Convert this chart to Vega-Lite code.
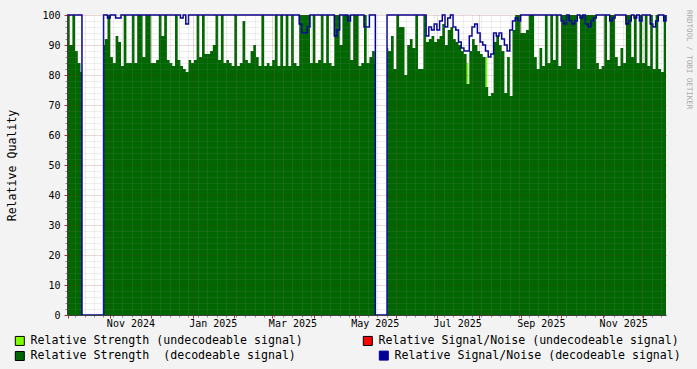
{
  "$schema": "https://vega.github.io/schema/vega-lite/v6.json",
  "width": 599,
  "height": 300,
  "autosize": {"type": "none"},
  "padding": {"left": 67, "top": 15, "right": 31, "bottom": 54},
  "background": "#F3F3F3",
  "config": {
    "view": {"fill": "#FFFFFF", "stroke": null},
    "axis": {"labelFont": "DejaVu Sans Mono", "labelFontSize": 10, "labelColor": "#000000", "titleFont": "DejaVu Sans Mono", "titleFontWeight": "normal", "titleColor": "#000000"}
  },
  "title": {"text": "RRDTOOL / TOBI OETIKER", "orient": "right", "anchor": "start", "font": "DejaVu Sans Mono", "fontSize": 7.5, "fontWeight": "normal", "color": "#aaaaaa", "offset": 4},
  "datasets": {
    "lime": [
      {"t": "2025-07-23T00:00:00Z", "u": 84},
      {"t": "2025-07-24T08:00:00Z", "u": 0},
      {"t": "2025-08-06T00:00:00Z", "u": 86},
      {"t": "2025-08-07T08:00:00Z", "u": 0}
    ],
    "main": [
      {"t": "2024-09-30", "s": 100, "n": 100},
      {"t": "2024-10-02", "s": 90, "n": 100},
      {"t": "2024-10-04", "s": 100, "n": 100},
      {"t": "2024-10-06", "s": 88, "n": 100},
      {"t": "2024-10-08", "s": 84, "n": 100},
      {"t": "2024-10-10", "s": 81, "n": 100},
      {"t": "2024-10-11T02:00:00Z", "s": 0, "n": 0},
      {"t": "2024-10-27T02:00:00Z", "s": 90, "n": 100},
      {"t": "2024-10-28", "s": 92, "n": 100},
      {"t": "2024-10-30", "s": 100, "n": 99},
      {"t": "2024-11-01", "s": 86, "n": 100},
      {"t": "2024-11-03", "s": 84, "n": 100},
      {"t": "2024-11-05", "s": 93, "n": 99},
      {"t": "2024-11-07", "s": 91, "n": 99},
      {"t": "2024-11-09", "s": 83, "n": 100},
      {"t": "2024-11-11", "s": 100, "n": 100},
      {"t": "2024-11-13", "s": 84, "n": 100},
      {"t": "2024-11-15", "s": 84, "n": 100},
      {"t": "2024-11-17", "s": 100, "n": 100},
      {"t": "2024-11-19", "s": 84, "n": 100},
      {"t": "2024-11-21", "s": 100, "n": 100},
      {"t": "2024-11-23", "s": 100, "n": 100},
      {"t": "2024-11-25", "s": 86, "n": 100},
      {"t": "2024-11-27", "s": 100, "n": 100},
      {"t": "2024-11-29", "s": 100, "n": 100},
      {"t": "2024-12-01", "s": 84, "n": 100},
      {"t": "2024-12-03", "s": 84, "n": 100},
      {"t": "2024-12-05", "s": 85, "n": 100},
      {"t": "2024-12-07", "s": 100, "n": 100},
      {"t": "2024-12-09", "s": 93, "n": 100},
      {"t": "2024-12-11", "s": 100, "n": 100},
      {"t": "2024-12-13", "s": 85, "n": 100},
      {"t": "2024-12-15", "s": 84, "n": 100},
      {"t": "2024-12-17", "s": 83, "n": 100},
      {"t": "2024-12-19", "s": 100, "n": 100},
      {"t": "2024-12-21", "s": 85, "n": 100},
      {"t": "2024-12-23", "s": 83, "n": 99},
      {"t": "2024-12-25", "s": 82, "n": 100},
      {"t": "2024-12-27", "s": 81, "n": 97},
      {"t": "2024-12-29", "s": 85, "n": 100},
      {"t": "2024-12-31", "s": 84, "n": 100},
      {"t": "2025-01-02", "s": 85, "n": 100},
      {"t": "2025-01-04", "s": 100, "n": 100},
      {"t": "2025-01-06", "s": 86, "n": 100},
      {"t": "2025-01-08", "s": 100, "n": 100},
      {"t": "2025-01-10", "s": 87, "n": 100},
      {"t": "2025-01-12", "s": 87, "n": 100},
      {"t": "2025-01-14", "s": 88, "n": 100},
      {"t": "2025-01-16", "s": 90, "n": 100},
      {"t": "2025-01-18", "s": 100, "n": 100},
      {"t": "2025-01-20", "s": 85, "n": 100},
      {"t": "2025-01-22", "s": 100, "n": 100},
      {"t": "2025-01-24", "s": 84, "n": 100},
      {"t": "2025-01-26", "s": 85, "n": 100},
      {"t": "2025-01-28", "s": 84, "n": 100},
      {"t": "2025-01-30", "s": 83, "n": 100},
      {"t": "2025-02-01", "s": 100, "n": 100},
      {"t": "2025-02-03", "s": 83, "n": 100},
      {"t": "2025-02-05", "s": 84, "n": 100},
      {"t": "2025-02-07", "s": 98, "n": 100},
      {"t": "2025-02-09", "s": 85, "n": 100},
      {"t": "2025-02-11", "s": 84, "n": 100},
      {"t": "2025-02-13", "s": 88, "n": 100},
      {"t": "2025-02-15", "s": 90, "n": 100},
      {"t": "2025-02-17", "s": 86, "n": 100},
      {"t": "2025-02-19", "s": 83, "n": 100},
      {"t": "2025-02-21", "s": 100, "n": 100},
      {"t": "2025-02-23", "s": 83, "n": 100},
      {"t": "2025-02-25", "s": 84, "n": 100},
      {"t": "2025-02-27", "s": 83, "n": 100},
      {"t": "2025-03-01", "s": 85, "n": 100},
      {"t": "2025-03-03", "s": 100, "n": 100},
      {"t": "2025-03-05", "s": 83, "n": 100},
      {"t": "2025-03-07", "s": 100, "n": 100},
      {"t": "2025-03-09", "s": 83, "n": 100},
      {"t": "2025-03-11", "s": 100, "n": 100},
      {"t": "2025-03-13", "s": 83, "n": 100},
      {"t": "2025-03-15", "s": 100, "n": 100},
      {"t": "2025-03-17", "s": 84, "n": 100},
      {"t": "2025-03-19", "s": 83, "n": 100},
      {"t": "2025-03-21", "s": 100, "n": 97},
      {"t": "2025-03-23", "s": 100, "n": 94},
      {"t": "2025-03-25", "s": 100, "n": 94},
      {"t": "2025-03-27", "s": 100, "n": 96},
      {"t": "2025-03-29", "s": 84, "n": 100},
      {"t": "2025-03-31", "s": 100, "n": 100},
      {"t": "2025-04-02", "s": 84, "n": 100},
      {"t": "2025-04-04", "s": 85, "n": 100},
      {"t": "2025-04-06", "s": 100, "n": 100},
      {"t": "2025-04-08", "s": 84, "n": 100},
      {"t": "2025-04-10", "s": 100, "n": 100},
      {"t": "2025-04-12", "s": 84, "n": 100},
      {"t": "2025-04-14", "s": 83, "n": 100},
      {"t": "2025-04-16", "s": 100, "n": 93},
      {"t": "2025-04-18", "s": 100, "n": 95},
      {"t": "2025-04-20", "s": 90, "n": 100},
      {"t": "2025-04-22", "s": 100, "n": 100},
      {"t": "2025-04-24", "s": 100, "n": 100},
      {"t": "2025-04-26", "s": 100, "n": 98},
      {"t": "2025-04-28", "s": 85, "n": 100},
      {"t": "2025-04-30", "s": 100, "n": 100},
      {"t": "2025-05-02", "s": 100, "n": 100},
      {"t": "2025-05-04", "s": 83, "n": 100},
      {"t": "2025-05-06", "s": 84, "n": 100},
      {"t": "2025-05-08", "s": 100, "n": 96},
      {"t": "2025-05-10", "s": 84, "n": 96},
      {"t": "2025-05-12", "s": 86, "n": 100},
      {"t": "2025-05-14", "s": 88, "n": 100},
      {"t": "2025-05-16", "s": 84, "n": 100},
      {"t": "2025-05-16T10:00:00Z", "s": 0, "n": 0},
      {"t": "2025-05-25T02:00:00Z", "s": 89, "n": 100},
      {"t": "2025-05-26", "s": 88, "n": 100},
      {"t": "2025-05-28", "s": 93, "n": 100},
      {"t": "2025-05-30", "s": 82, "n": 100},
      {"t": "2025-06-01", "s": 100, "n": 100},
      {"t": "2025-06-03", "s": 96, "n": 100},
      {"t": "2025-06-05", "s": 96, "n": 100},
      {"t": "2025-06-07", "s": 80, "n": 100},
      {"t": "2025-06-09", "s": 90, "n": 100},
      {"t": "2025-06-11", "s": 92, "n": 100},
      {"t": "2025-06-13", "s": 89, "n": 100},
      {"t": "2025-06-15", "s": 100, "n": 100},
      {"t": "2025-06-17", "s": 82, "n": 100},
      {"t": "2025-06-19", "s": 82, "n": 100},
      {"t": "2025-06-21", "s": 100, "n": 100},
      {"t": "2025-06-23", "s": 91, "n": 93},
      {"t": "2025-06-25", "s": 92, "n": 96},
      {"t": "2025-06-27", "s": 93, "n": 95},
      {"t": "2025-06-29", "s": 91, "n": 97},
      {"t": "2025-07-01", "s": 92, "n": 95},
      {"t": "2025-07-03", "s": 93, "n": 98},
      {"t": "2025-07-05", "s": 97, "n": 100},
      {"t": "2025-07-07", "s": 90, "n": 96},
      {"t": "2025-07-09", "s": 95, "n": 99},
      {"t": "2025-07-11", "s": 96, "n": 100},
      {"t": "2025-07-13", "s": 92, "n": 96},
      {"t": "2025-07-15", "s": 91, "n": 95},
      {"t": "2025-07-17", "s": 90, "n": 91},
      {"t": "2025-07-19", "s": 88, "n": 89},
      {"t": "2025-07-21", "s": 87, "n": 88},
      {"t": "2025-07-23", "s": 77, "n": 88},
      {"t": "2025-07-25", "s": 88, "n": 93},
      {"t": "2025-07-27", "s": 92, "n": 96},
      {"t": "2025-07-29", "s": 90, "n": 97},
      {"t": "2025-07-31", "s": 88, "n": 94},
      {"t": "2025-08-02", "s": 87, "n": 91},
      {"t": "2025-08-04", "s": 86, "n": 90},
      {"t": "2025-08-06", "s": 76, "n": 88},
      {"t": "2025-08-08", "s": 73, "n": 86},
      {"t": "2025-08-10", "s": 74, "n": 87},
      {"t": "2025-08-12", "s": 91, "n": 94},
      {"t": "2025-08-14", "s": 93, "n": 93},
      {"t": "2025-08-16", "s": 90, "n": 94},
      {"t": "2025-08-18", "s": 88, "n": 92},
      {"t": "2025-08-20", "s": 74, "n": 90},
      {"t": "2025-08-22", "s": 86, "n": 88},
      {"t": "2025-08-24", "s": 73, "n": 95},
      {"t": "2025-08-26", "s": 95, "n": 98},
      {"t": "2025-08-28", "s": 100, "n": 99},
      {"t": "2025-08-30", "s": 100, "n": 98},
      {"t": "2025-09-01", "s": 94, "n": 100},
      {"t": "2025-09-03", "s": 94, "n": 100},
      {"t": "2025-09-05", "s": 95, "n": 100},
      {"t": "2025-09-07", "s": 100, "n": 100},
      {"t": "2025-09-09", "s": 100, "n": 100},
      {"t": "2025-09-11", "s": 86, "n": 100},
      {"t": "2025-09-13", "s": 82, "n": 100},
      {"t": "2025-09-15", "s": 89, "n": 100},
      {"t": "2025-09-17", "s": 83, "n": 100},
      {"t": "2025-09-19", "s": 100, "n": 100},
      {"t": "2025-09-21", "s": 84, "n": 100},
      {"t": "2025-09-23", "s": 100, "n": 100},
      {"t": "2025-09-25", "s": 85, "n": 100},
      {"t": "2025-09-27", "s": 100, "n": 100},
      {"t": "2025-09-29", "s": 83, "n": 100},
      {"t": "2025-10-01", "s": 100, "n": 98},
      {"t": "2025-10-03", "s": 100, "n": 97},
      {"t": "2025-10-05", "s": 100, "n": 100},
      {"t": "2025-10-07", "s": 100, "n": 98},
      {"t": "2025-10-09", "s": 100, "n": 97},
      {"t": "2025-10-11", "s": 100, "n": 98},
      {"t": "2025-10-13", "s": 82, "n": 100},
      {"t": "2025-10-15", "s": 100, "n": 99},
      {"t": "2025-10-17", "s": 100, "n": 100},
      {"t": "2025-10-19", "s": 100, "n": 97},
      {"t": "2025-10-21", "s": 100, "n": 96},
      {"t": "2025-10-23", "s": 100, "n": 98},
      {"t": "2025-10-25", "s": 100, "n": 99},
      {"t": "2025-10-27", "s": 84, "n": 100},
      {"t": "2025-10-29", "s": 82, "n": 100},
      {"t": "2025-10-31", "s": 83, "n": 100},
      {"t": "2025-11-02", "s": 100, "n": 100},
      {"t": "2025-11-04", "s": 85, "n": 100},
      {"t": "2025-11-06", "s": 100, "n": 98},
      {"t": "2025-11-08", "s": 100, "n": 99},
      {"t": "2025-11-10", "s": 86, "n": 100},
      {"t": "2025-11-12", "s": 83, "n": 100},
      {"t": "2025-11-14", "s": 89, "n": 100},
      {"t": "2025-11-16", "s": 84, "n": 100},
      {"t": "2025-11-18", "s": 100, "n": 97},
      {"t": "2025-11-20", "s": 100, "n": 98},
      {"t": "2025-11-22", "s": 86, "n": 100},
      {"t": "2025-11-24", "s": 100, "n": 99},
      {"t": "2025-11-26", "s": 84, "n": 100},
      {"t": "2025-11-28", "s": 100, "n": 98},
      {"t": "2025-11-30", "s": 84, "n": 100},
      {"t": "2025-12-02", "s": 100, "n": 100},
      {"t": "2025-12-04", "s": 83, "n": 100},
      {"t": "2025-12-06", "s": 100, "n": 97},
      {"t": "2025-12-08", "s": 82, "n": 96},
      {"t": "2025-12-10", "s": 100, "n": 98},
      {"t": "2025-12-12", "s": 82, "n": 100},
      {"t": "2025-12-14", "s": 81, "n": 100},
      {"t": "2025-12-16", "s": 100, "n": 98},
      {"t": "2025-12-17T17:00:00Z", "s": 97, "n": 100}
    ]
  },
  "layer": [
    {
      "data": {"name": "lime"},
      "mark": {"type": "area", "interpolate": "step-after"},
      "encoding": {
        "x": {
          "field": "t", "type": "temporal",
          "scale": {"type": "utc", "domain": [{"year": 2024, "month": 9, "date": 30, "utc": true}, {"year": 2025, "month": 12, "date": 17, "hours": 17, "utc": true}]},
          "axis": {"orient": "bottom", "title": null, "labels": false, "domain": false, "grid": true, "gridColor": "#8c8c8c", "gridOpacity": 0.3, "gridDash": [1, 1], "tickCount": {"interval": "week", "step": 1}, "ticks": true, "tickSize": 2, "tickColor": "#8c8c8c", "zindex": 1}
        },
        "y": {
          "field": "u", "type": "quantitative",
          "scale": {"domain": [0, 100], "nice": false},
          "axis": {"orient": "left", "title": null, "labels": false, "domain": false, "values": [2, 4, 6, 8, 12, 14, 16, 18, 22, 24, 26, 28, 32, 34, 36, 38, 42, 44, 46, 48, 52, 54, 56, 58, 62, 64, 66, 68, 72, 74, 76, 78, 82, 84, 86, 88, 92, 94, 96, 98], "grid": true, "gridColor": "#8c8c8c", "gridOpacity": 0.3, "gridDash": [1, 1], "ticks": true, "tickSize": 2, "tickColor": "#8c8c8c", "zindex": 1}
        },
        "fill": {
          "datum": "Relative Strength (undecodeable signal)",
          "type": "nominal",
          "scale": {"domain": ["Relative Strength (undecodeable signal)", "Relative Strength \u00a0(decodeable signal)", "Relative Signal/Noise (undecodeable signal)"], "range": ["#7FFF00", "#006600", "#FF0000"]},
          "legend": {
            "orient": "none", "legendX": -53, "legendY": 319.8, "columns": 2, "title": null,
            "symbolType": "square", "symbolSize": 81, "labelFont": "DejaVu Sans Mono", "labelFontSize": 11.6, "labelColor": "#000000",
            "labelLimit": 0, "labelOffset": 5, "columnPadding": 58, "rowPadding": 1.4, "padding": 0,
            "symbolStrokeWidth": 1, "symbolStrokeColor": "#000000",
            "encode": {"symbols": {"update": {"stroke": {"value": "#000000"}, "strokeWidth": {"value": 1}, "opacity": {"value": 1}}}}
          }
        }
      }
    },
    {
      "data": {"name": "main"},
      "mark": {"type": "area", "interpolate": "step-after"},
      "encoding": {
        "x": {
          "field": "t", "type": "temporal",
          "axis": {"orient": "bottom", "title": null, "labels": false, "domain": true, "domainColor": "#404040", "grid": true, "gridColor": "#821e1e", "gridOpacity": 0.35, "gridDash": [1, 1], "tickCount": {"interval": "month", "step": 1}, "ticks": true, "tickSize": 3, "tickColor": "#b03030", "zindex": 1}
        },
        "y": {
          "field": "s", "type": "quantitative",
          "scale": {"domain": [0, 100], "nice": false},
          "axis": {"orient": "left", "title": "Relative Quality", "titleFontSize": 11.6, "titleX": -55, "titleY": 150, "titleBaseline": "middle", "values": [0, 10, 20, 30, 40, 50, 60, 70, 80, 90, 100], "grid": true, "gridColor": "#821e1e", "gridOpacity": 0.35, "gridDash": [1, 1], "domain": true, "domainColor": "#404040", "ticks": true, "tickSize": 3, "tickColor": "#b03030", "labelPadding": 4, "zindex": 1}
        },
        "fill": {
          "datum": "Relative Strength \u00a0(decodeable signal)",
          "type": "nominal",
          "scale": {"domain": ["Relative Strength (undecodeable signal)", "Relative Strength \u00a0(decodeable signal)", "Relative Signal/Noise (undecodeable signal)"], "range": ["#7FFF00", "#006600", "#FF0000"]}
        }
      }
    },
    {
      "data": {"name": "main"},
      "mark": {"type": "line", "interpolate": "step-after", "strokeWidth": 1.5},
      "encoding": {
        "x": {
          "field": "t", "type": "temporal",
          "axis": {"orient": "bottom", "title": null, "format": "%b %Y", "values": [{"year": 2024, "month": 11, "date": 16, "utc": true}, {"year": 2025, "month": 1, "date": 16, "utc": true}, {"year": 2025, "month": 3, "date": 16, "utc": true}, {"year": 2025, "month": 5, "date": 16, "utc": true}, {"year": 2025, "month": 7, "date": 16, "utc": true}, {"year": 2025, "month": 9, "date": 16, "utc": true}, {"year": 2025, "month": 11, "date": 16, "utc": true}], "ticks": false, "grid": false, "domain": false, "labelPadding": 3, "labelOverlap": false, "labelFlush": false}
        },
        "y": {
          "field": "n", "type": "quantitative",
          "scale": {"domain": [0, 100], "nice": false},
          "axis": null
        },
        "stroke": {
          "datum": "Relative Signal/Noise (decodeable signal)",
          "type": "nominal",
          "scale": {"domain": ["Relative Signal/Noise (decodeable signal)"], "range": ["#000099"]},
          "legend": {
            "orient": "none", "legendX": 311, "legendY": 334.8, "title": null,
            "symbolType": "square", "symbolSize": 81, "labelFont": "DejaVu Sans Mono", "labelFontSize": 11.6, "labelColor": "#000000",
            "labelLimit": 0, "labelOffset": 5, "padding": 0,
            "symbolStrokeWidth": 1, "symbolStrokeColor": "#000000", "symbolFillColor": "#000099",
            "encode": {"symbols": {"update": {"fill": {"value": "#000099"}, "stroke": {"value": "#000000"}, "strokeWidth": {"value": 1}, "opacity": {"value": 1}}}}
          }
        }
      }
    }
  ],
  "resolve": {"axis": {"x": "independent", "y": "independent"}}
}
